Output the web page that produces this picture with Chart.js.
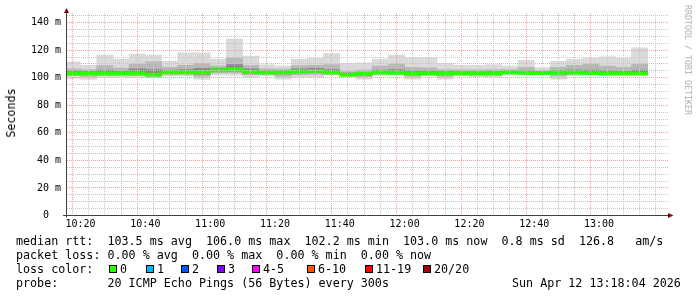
<!DOCTYPE html>
<html><head><meta charset="utf-8">
<script src="https://cdn.jsdelivr.net/npm/chart.js@4.4.1/dist/chart.umd.min.js"></script>
<style>
html,body{margin:0;padding:0;background:#fff;width:697px;height:297px;overflow:hidden}
#wrap{position:relative;width:697px;height:297px}
canvas{position:absolute;left:0;top:0}
.t{position:absolute;font-family:"DejaVu Sans Mono",monospace;font-size:11.7px;line-height:14px;white-space:pre;color:#000}
.box{position:absolute;width:6px;height:6px;border:1px solid #000;top:265px}
.rot{position:absolute;font-family:"DejaVu Sans Mono",monospace;white-space:pre;transform-origin:center center}
</style></head><body>
<div id="wrap">
<canvas id="c" width="697" height="297"></canvas>
<div class="rot" style="left:10.8px;top:113.3px;font-size:11.7px;color:#000;transform:translate(-50%,-50%) rotate(-90deg)">Seconds</div>
<div class="rot" style="left:687.5px;top:60px;font-size:8.3px;color:#b0b0b0;transform:translate(-50%,-50%) rotate(90deg)">RRDTOOL / TOBI OETIKER</div>
<div class="t" style="left:16px;top:234px">median rtt:  103.5 ms avg  106.0 ms max  102.2 ms min  103.0 ms now  0.8 ms sd  126.8   am/s</div>
<div class="t" style="left:16px;top:248px">packet loss: 0.00 % avg  0.00 % max  0.00 % min  0.00 % now</div>
<div class="t" style="left:16px;top:262px">loss color:</div>
<div id="lossLegend"></div>
<div class="t" style="left:16px;top:276px">probe:       20 ICMP Echo Pings (56 Bytes) every 300s</div>
<div class="t" style="left:512px;top:276px">Sun Apr 12 13:18:04 2026</div>
</div>
<script>
// ---- data ----
const times = ['10:15','10:20','10:25','10:30','10:35','10:40','10:45','10:50','10:55',
  '11:00','11:05','11:10','11:15','11:20','11:25','11:30','11:35','11:40','11:45','11:50','11:55',
  '12:00','12:05','12:10','12:15','12:20','12:25','12:30','12:35','12:40','12:45','12:50','12:55',
  '13:00','13:05','13:10'];
const maxRtt = [111.5,109.1,116.4,113.5,117.1,116.4,112.0,118.0,118.0,113.5,128.0,115.7,109.4,108.4,113.3,114.2,117.6,110.4,110.8,113.5,116.4,114.4,114.4,110.4,109.1,109.1,109.5,108.4,112.7,107.4,112.0,113.5,114.2,115.2,114.2,121.7];
const minRtt = [99.5,98.8,100.5,100.5,100.5,99.8,101.3,101.3,98.8,102.0,101.9,100.5,101.5,99.0,100.5,100.5,102.0,101.8,99.0,101.8,102.0,99.0,101.5,99.0,101.5,100.8,100.4,102.0,102.0,102.0,99.0,101.5,102.0,102.0,102.0,102.0];
const upperMid = [106.5,106.0,108.8,107.0,110.0,111.5,107.5,109.0,110.5,108.5,114.5,109.0,106.5,106.2,108.8,109.0,109.5,104.5,105.5,108.5,110.0,107.5,107.2,106.0,105.8,105.8,106.0,106.0,107.5,105.2,107.5,109.0,110.0,108.5,107.5,110.0];
const lowerMid = [101.5,101.0,101.8,101.9,101.8,101.0,102.5,102.5,101.0,103.5,103.5,102.2,102.5,101.2,102.3,102.5,102.8,101.9,100.8,102.6,102.7,101.0,102.2,101.0,102.2,102.0,101.8,102.8,102.6,102.5,101.3,102.5,102.6,102.5,102.5,102.4];
const upperCore = [104.8,104.5,105.5,104.9,106.5,106.0,105.5,106.0,106.8,106.8,109.5,106.5,105.0,105.2,106.5,106.8,106.0,103.4,104.0,105.5,106.0,105.0,104.8,104.5,104.3,104.3,104.4,105.0,105.0,104.2,105.3,105.8,105.5,105.0,104.8,105.5];
const lowerCore = [102.4,102.2,102.5,102.5,102.4,101.7,103.2,103.2,102.6,104.4,104.8,103.4,103.0,102.8,103.5,103.8,103.2,102.0,102.0,103.2,103.0,102.3,102.6,102.2,102.6,102.5,102.5,103.4,103.0,102.9,102.8,103.2,102.9,102.8,102.8,102.7];
const medianRtt = [103.1,103.1,103.1,103.1,103.1,102.3,104.0,104.0,104.0,105.3,106.0,104.3,103.7,104.0,104.6,105.0,103.7,102.2,102.8,103.8,103.6,103.1,103.1,103.1,103.1,103.1,103.1,104.0,103.5,103.3,103.8,103.8,103.3,103.1,103.1,103.0];
const xTickLabels = ['10:20','10:40','11:00','11:20','11:40','12:00','12:20','12:40','13:00'];
const yTickLabels = ['0  ','20 m','40 m','60 m','80 m','100 m','120 m','140 m'];
const lossLabels = ['0','1','2','3','4-5','6-10','11-19','20/20'];
const lossColors = ['#26ff00','#00b8ff','#0059ff','#7e00ff','#ff00ff','#ff5500','#ff0000','#a10000'];

// ---- styling ----
const boxX = [109,146,181,217,252,307,365,423];
const lossBox = document.getElementById('lossLegend');
lossLabels.forEach((lab,i)=>{
  const b=document.createElement('div'); b.className='box';
  b.style.left=boxX[i]+'px'; b.style.background=lossColors[i]; lossBox.appendChild(b);
  const t=document.createElement('div'); t.className='t'; t.textContent=lab;
  t.style.left=(boxX[i]+11)+'px'; t.style.top='262px'; lossBox.appendChild(t);
});

const toMin = s => { const [h,m]=s.split(':').map(Number); return (h-10)*60+m; };
const centers = times.map(s => toMin(s)+2.5);
const MEDIAN_HALF = 1.15;
const MAJOR = 'rgb(247,159,159)';
const MINOR = '#c6c6c6';
const FONT = {family:'DejaVu Sans Mono', size:10};
const majorOf = v => Math.abs(v % 20) < 1e-6;
const gridColor = c => { const tk = c.scale.ticks[c.index]; return tk && majorOf(tk.value) ? MAJOR : MINOR; };

function band(lo, hi){ return centers.map((x,i)=>({x, y:[lo[i], hi[i]]})); }
const barBase = {grouped:false, barPercentage:1, categoryPercentage:1, borderWidth:0, clip:0};

const axesPlugin = {
  id:'axes',
  afterDraw(chart){
    const {ctx, chartArea:a} = chart;
    const xl = Math.round(a.left)-0.5, yb = Math.floor(a.bottom)+0.5;
    ctx.save();
    ctx.strokeStyle='#404040'; ctx.lineWidth=1;
    ctx.beginPath();
    ctx.moveTo(xl, a.bottom+2); ctx.lineTo(xl, a.top-3);
    ctx.moveTo(a.left-4, yb); ctx.lineTo(a.right+2, yb);
    ctx.stroke();
    ctx.fillStyle='#7f0000';
    ctx.beginPath(); ctx.moveTo(xl, a.top-5); ctx.lineTo(xl-2.5, a.top); ctx.lineTo(xl+2.5, a.top); ctx.closePath(); ctx.fill();
    ctx.beginPath(); ctx.moveTo(a.right+5.5, yb); ctx.lineTo(a.right, yb-2.5); ctx.lineTo(a.right, yb+2.5); ctx.closePath(); ctx.fill();
    ctx.restore();
  }
};

new Chart(document.getElementById('c'), {
  type:'bar',
  data:{datasets:[
    {...barBase, label:'min-max', data:band(minRtt,maxRtt), backgroundColor:'#dadada', order:4},
    {...barBase, label:'mid', data:band(lowerMid,upperMid), backgroundColor:'#b8b8b8', order:3},
    {...barBase, label:'core', data:band(lowerCore,upperCore), backgroundColor:'#8a8a8a', order:2},
    {...barBase, label:'median', data:centers.map((x,i)=>({x, y:[medianRtt[i]-MEDIAN_HALF, medianRtt[i]+MEDIAN_HALF]})), backgroundColor:'#26ff00', order:1}
  ]},
  options:{
    responsive:false, animation:false, devicePixelRatio:1,
    layout:{padding:{left:0, top:13, right:29, bottom:0}},
    plugins:{legend:{display:false}, tooltip:{enabled:false}},
    scales:{
      x:{type:'linear', min:18.4, max:198.7,
        afterBuildTicks:s=>{ const t=[]; for(let v=20; v<=195; v+=5) t.push({value:v}); s.ticks=t; },
        afterFit:s=>{ s.height=81.5; },
        grid:{z:1, drawTicks:false, lineWidth:1, color:gridColor},
        border:{display:false, dash:[1,1]},
        ticks:{autoSkip:false, maxRotation:0, minRotation:0, padding:3, font:FONT, color:'#000',
          callback:v=> majorOf(v) ? xTickLabels[Math.round(v/20)-1] : ''}
      },
      y:{min:0, max:147,
        afterBuildTicks:s=>{ const t=[]; for(let v=0; v<=145; v+=5) t.push({value:v}); s.ticks=t; },
        afterFit:s=>{ s.width=67; },
        grid:{z:1, drawTicks:false, lineWidth:1, color:gridColor},
        border:{display:false, dash:[1,1]},
        ticks:{autoSkip:false, padding:6, font:FONT, color:'#000',
          callback:v=> majorOf(v) ? yTickLabels[Math.round(v/20)] : ''}
      }
    }
  },
  plugins:[axesPlugin]
});
</script>
</body></html>
